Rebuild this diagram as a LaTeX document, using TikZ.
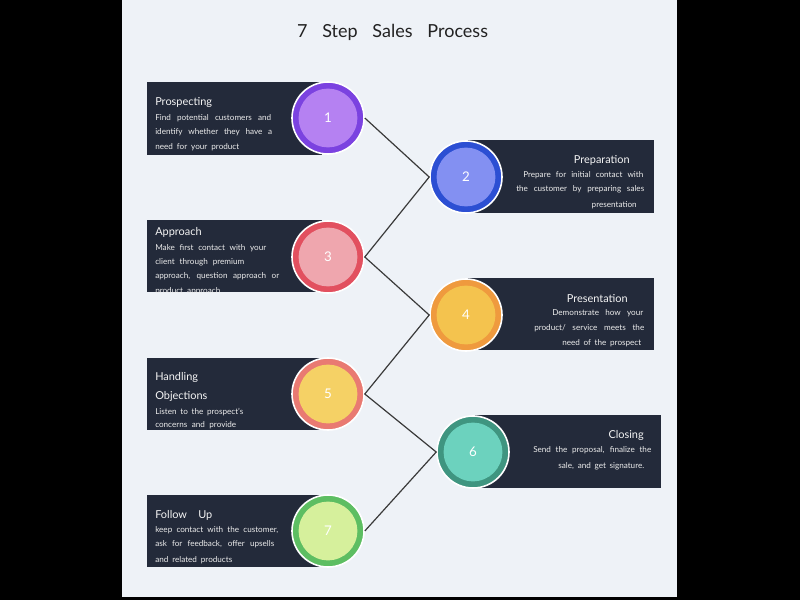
\documentclass[tikz,border=0pt]{standalone}
\usepackage{fontspec}
\setmainfont{Lato}
\newlength\upx
\setlength\upx{0.75pt}
\newcommand\jl[2]{\makebox[#1\upx][s]{#2}}
\definecolor{panelc}{HTML}{EEF2F7}
\definecolor{boxc}{HTML}{232A3A}
\definecolor{linec}{HTML}{3A3A3A}
\definecolor{titlec}{HTML}{222222}
\definecolor{oA}{HTML}{7B42E0}\definecolor{iA}{HTML}{B581F2}
\definecolor{oB}{HTML}{2C4FD3}\definecolor{iB}{HTML}{8390F2}
\definecolor{oC}{HTML}{E2505F}\definecolor{iC}{HTML}{EFA6AE}
\definecolor{oD}{HTML}{EF9A3E}\definecolor{iD}{HTML}{F4C34E}
\definecolor{oE}{HTML}{E97A72}\definecolor{iE}{HTML}{F5D165}
\definecolor{oF}{HTML}{3F9580}\definecolor{iF}{HTML}{6CD2BE}
\definecolor{oG}{HTML}{5DBE62}\definecolor{iG}{HTML}{D6F09C}
\tikzset{
  ring/.style={circle, draw=white, line width=1.2pt, minimum size=54pt, inner sep=0pt, fill=#1},
  core/.style={circle, minimum size=44pt, inner sep=0pt, fill=#1, text=white, font=\fontsize{10}{12}\selectfont},
  infobox/.style={fill=boxc},
  head/.style={inner sep=0pt, yshift=-1.2pt, text=white!92!gray, font=\fontsize{8.2}{9}\selectfont},
  body/.style={inner sep=0pt, yshift=-1.2pt, text=white!85!gray, font=\fontsize{6.1}{7}\selectfont},
  link/.style={draw=linec, line width=0.9pt},
}
\begin{document}
\begin{tikzpicture}[x=0.75pt,y=-0.75pt]
\useasboundingbox (0,0) rectangle (800,600);
\fill[black] (0,0) rectangle (800,600);
\fill[panelc] (122,0) rectangle (677,597);
% title
\node[inner sep=0pt, yshift=-1.5pt, text=titlec, font=\fontsize{13.5}{15}\selectfont] (title) at (392.5,30) {\jl{191}{7 Step Sales Process}};
% boxes
\fill[infobox] (147,82) rectangle (322,155);
\fill[infobox] (468,140) rectangle (654,213);
\fill[infobox] (147,220) rectangle (322,292);
\fill[infobox] (468,278) rectangle (654,350);
\fill[infobox] (147,358) rectangle (322,430);
\fill[infobox] (475,415) rectangle (661,488);
\fill[infobox] (147,495) rectangle (322,567);
% circles
\node[ring=oA] (c1) at (328,118) {};
\node[ring=oB] (c2) at (466,177) {};
\node[ring=oC] (c3) at (328,257) {};
\node[ring=oD] (c4) at (466,315) {};
\node[ring=oE] (c5) at (328,394) {};
\node[ring=oF] (c6) at (473,452) {};
\node[ring=oG] (c7) at (328,531) {};
\node[core=iA] (n1) at (c1) {1};
\node[core=iB] (n2) at (c2) {2};
\node[core=iC] (n3) at (c3) {3};
\node[core=iD] (n4) at (c4) {4};
\node[core=iE] (n5) at (c5) {5};
\node[core=iF] (n6) at (c6) {6};
\node[core=iG] (n7) at (c7) {7};
% connectors
\draw[link] (c1.east) -- (c2.west) -- (c3.east) -- (c4.west) -- (c5.east) -- (c6.west) -- (c7.east);
% box 1
\node[head, anchor=west] (h1) at (155,101) {Prospecting};
\node[body, anchor=west] (b1a) at (155,117) {\jl{116}{Find potential customers and}};
\node[body, anchor=west] (b1b) at (155,131) {\jl{117}{identify whether they have a}};
\node[body, anchor=west] (b1c) at (155,146) {\jl{84}{need for your product}};
% box 2
\node[head, anchor=east] (h2) at (630,159) {Preparation};
\node[body, anchor=west] (b2a) at (523,174) {\jl{120}{Prepare for initial contact with}};
\node[body, anchor=west] (b2b) at (516,188) {\jl{128}{the customer by preparing sales}};
\node[body, anchor=east] (b2c) at (637,204) {presentation};
% box 3
\node[head, anchor=west] (h3) at (155,231) {Approach};
\node[body, anchor=west] (b3a) at (155,247) {\jl{111}{Make first contact with your}};
\node[body, anchor=west] (b3b) at (155,261) {\jl{89}{client through premium}};
\node[body, anchor=west] (b3c) at (155,275) {\jl{124}{approach, question approach or}};
\begin{scope}
\clip (147,220) rectangle (322,292);
\node[body, anchor=west] (b3d) at (155,290) {\jl{65}{product approach}};
\end{scope}
% box 4
\node[head, anchor=east] (h4) at (628,297) {Presentation};
\node[body, anchor=west] (b4a) at (552,312) {\jl{91}{Demonstrate how your}};
\node[body, anchor=west] (b4b) at (534,327) {\jl{110}{product/ service meets the}};
\node[body, anchor=west] (b4c) at (562,342) {\jl{79}{need of the prospect}};
% box 5
\node[head, anchor=west] (h5a) at (155,376) {Handling};
\node[head, anchor=west] (h5b) at (155,395) {Objections};
\node[body, anchor=west] (b5a) at (155,410) {\jl{88}{Listen to the prospect's}};
\node[body, anchor=west] (b5b) at (155,424) {\jl{81}{concerns and provide}};
% box 6
\node[head, anchor=east] (h6) at (644,434) {Closing};
\node[body, anchor=west] (b6a) at (533,449) {\jl{118}{Send the proposal, finalize the}};
\node[body, anchor=west] (b6b) at (558,465) {\jl{86}{sale, and get signature.}};
% box 7
\node[head, anchor=west] (h7) at (155,514) {\jl{57}{Follow Up}};
\node[body, anchor=west] (b7a) at (155,529) {\jl{123}{keep contact with the customer,}};
\node[body, anchor=west] (b7b) at (155,543) {\jl{119}{ask for feedback, offer upsells}};
\node[body, anchor=west] (b7c) at (155,559) {\jl{77}{and related products}};
\end{tikzpicture}
\end{document}
